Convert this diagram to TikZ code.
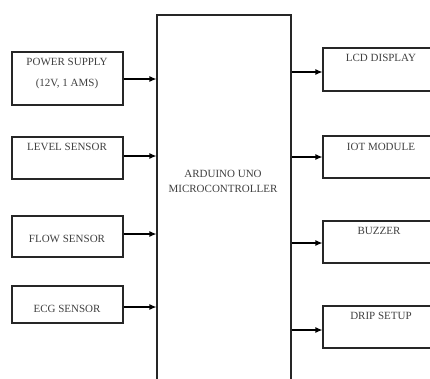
\documentclass[tikz,border=0pt]{standalone}
\usepackage{fontspec}
\setmainfont{Liberation Serif}
\usetikzlibrary{arrows.meta}
\begin{document}
\begin{tikzpicture}[x=1pt,y=-1pt,
  box/.style={draw=black!85, line width=1.1pt, inner sep=0pt},
  lbl/.style={font=\fontsize{11}{15}\selectfont, text=black!75, inner sep=0pt, align=center},
  arr/.style={draw=black, line width=1.1pt, -{Latex[length=7pt,width=6pt]}}]
\useasboundingbox (0,0) rectangle (430,378);
\clip (0,0) rectangle (430,378);
\fill[white] (0,0) rectangle (430,378);
% left boxes
\node[box, minimum width=111pt, minimum height=53pt] (ps) at (67.5,78.5) {};
\node[box, minimum width=111pt, minimum height=42pt] (lv) at (67.5,158) {};
\node[box, minimum width=111pt, minimum height=41pt] (fl) at (67.5,236.5) {};
\node[box, minimum width=111pt, minimum height=37pt] (ecg) at (67.5,304.5) {};
% microcontroller (extends past bottom edge)
\node[box, minimum width=134pt, minimum height=385pt] (mc) at (224,207.5) {};
% right boxes (extend past right edge)
\node[box, minimum width=130pt, minimum height=43pt] (lcd) at (388,69.5) {};
\node[box, minimum width=130pt, minimum height=42pt] (iot) at (388,157) {};
\node[box, minimum width=130pt, minimum height=42pt] (bz) at (388,242) {};
\node[box, minimum width=130pt, minimum height=42pt] (dr) at (388,327) {};
% texts
\node[lbl] (t1) at (67,62) {POWER SUPPLY};
\node[lbl] (t1b) at (67,84) {(12V, 1 AMS)};
\node[lbl] (t2) at (67,147) {LEVEL SENSOR};
\node[lbl] (t3) at (67,239) {FLOW SENSOR};
\node[lbl] (t4) at (67,309) {ECG SENSOR};
\node[lbl] (t5) at (223,181.5) {ARDUINO UNO\\MICROCONTROLLER};
\node[lbl] (t6) at (381,58) {LCD DISPLAY};
\node[lbl] (t7) at (381,147) {IOT MODULE};
\node[lbl] (t8) at (379,231) {BUZZER};
\node[lbl] (t9) at (381,316) {DRIP SETUP};
% arrows in
\draw[arr] ([yshift=-0.5pt]ps.east) -- ([yshift=-0.5pt]ps.east -| mc.west);
\draw[arr] ([yshift=2pt]lv.east) -- ([yshift=2pt]lv.east -| mc.west);
\draw[arr] ([yshift=2.5pt]fl.east) -- ([yshift=2.5pt]fl.east -| mc.west);
\draw[arr] ([yshift=-2.5pt]ecg.east) -- ([yshift=-2.5pt]ecg.east -| mc.west);
% arrows out
\draw[arr] ([yshift=-2.5pt]lcd.west -| mc.east) -- ([yshift=-2.5pt]lcd.west);
\draw[arr] (iot.west -| mc.east) -- (iot.west);
\draw[arr] ([yshift=-1pt]bz.west -| mc.east) -- ([yshift=-1pt]bz.west);
\draw[arr] ([yshift=-3pt]dr.west -| mc.east) -- ([yshift=-3pt]dr.west);
\end{tikzpicture}
\end{document}
